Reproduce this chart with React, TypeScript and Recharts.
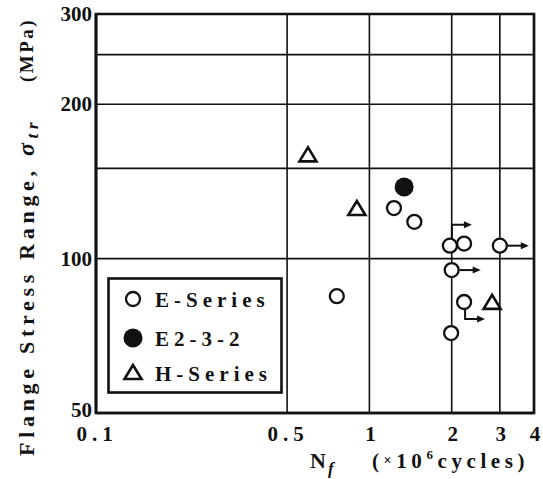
import React from 'react';
import {
  ScatterChart,
  Scatter,
  XAxis,
  YAxis,
  CartesianGrid,
  ReferenceArea,
  Legend,
  Label,
} from 'recharts';

// fatigue test results, N in million cycles, stress range in MPa
// runout = specimen did not fail, arrow shows the direction
const eSeries = [
  { n: 1.23, s: 125.5 },
  { n: 1.46, s: 118 },
  { n: 1.97, s: 106, runout: 'up' },
  { n: 2.22, s: 107 },
  { n: 3.0, s: 106, runout: 'right' },
  { n: 2.0, s: 95, runout: 'right' },
  { n: 0.76, s: 84.5 },
  { n: 2.22, s: 82.3, runout: 'down' },
  { n: 1.99, s: 71.6 },
];
const e232 = [{ n: 1.34, s: 138 }];
const hSeries = [
  { n: 0.596, s: 159 },
  { n: 0.9, s: 125 },
  { n: 2.81, s: 82 },
];

const seriesNames = ['E-Series', 'E2-3-2', 'H-Series'];
const xTicks = [0.1, 0.5, 1, 2, 3, 4];
const yTicks = [50, 100, 150, 200, 250, 300];
const yLabels = [50, 100, 200, 300];

const ink = '#111';
const font = "'Liberation Serif', 'Times New Roman', serif";

const OpenCircle = (props: any) => {
  const { cx, cy, payload } = props;
  const r = payload.runout;
  return (
    <g>
      <circle cx={cx} cy={cy} r={7} fill="#fff" stroke={ink} strokeWidth={2.3} />
      {r === 'right' && (
        <g>
          <path d={`M${cx + 8},${cy} H${cx + 22}`} stroke={ink} strokeWidth={2} />
          <polygon points={`${cx + 29},${cy} ${cx + 21},${cy - 3.5} ${cx + 21},${cy + 3.5}`} fill={ink} />
        </g>
      )}
      {r === 'up' && (
        <g>
          <path d={`M${cx + 2},${cy - 8} V${cy - 21} H${cx + 15}`} stroke={ink} strokeWidth={2} fill="none" />
          <polygon points={`${cx + 22},${cy - 21} ${cx + 14},${cy - 24.5} ${cx + 14},${cy - 17.5}`} fill={ink} />
        </g>
      )}
      {r === 'down' && (
        <g>
          <path d={`M${cx + 1},${cy + 8} V${cy + 17} H${cx + 14}`} stroke={ink} strokeWidth={2} fill="none" />
          <polygon points={`${cx + 21},${cy + 17} ${cx + 13},${cy + 13.5} ${cx + 13},${cy + 20.5}`} fill={ink} />
        </g>
      )}
    </g>
  );
};

const FilledCircle = (props: any) => (
  <circle cx={props.cx} cy={props.cy} r={9.5} fill={ink} />
);

const Triangle = (props: any) => {
  const { cx, cy } = props;
  return (
    <polygon
      points={`${cx},${cy - 8} ${cx - 8.5},${cy + 6} ${cx + 8.5},${cy + 6}`}
      fill="#fff"
      stroke={ink}
      strokeWidth={2.6}
    />
  );
};

const XTick = (props: any) => {
  const { x, y, payload } = props;
  const txt = String(payload.value);
  const dec = txt.includes('.');
  return (
    <text
      x={x + 1}
      y={y + 28}
      textAnchor="middle"
      fontFamily={font}
      fontWeight="bold"
      fontSize={21}
      letterSpacing={dec ? 5 : 0}
      fill={ink}
    >
      {txt}
    </text>
  );
};

const YTick = (props: any) => {
  const { x, y, payload } = props;
  if (!yLabels.includes(payload.value)) return <g />;
  return (
    <text
      x={x}
      y={y}
      dy={payload.value === 50 ? '0.2em' : '0.34em'}
      textAnchor="end"
      fontFamily={font}
      fontWeight="bold"
      fontSize={21}
      fill={ink}
    >
      {payload.value}
    </text>
  );
};

const YTitle = () => (
  <g fontFamily={font} fontWeight="bold" fill={ink}>
    <text transform="rotate(-90)" x={-456} y={34} fontSize={22} letterSpacing={4.7}>
      Flange Stress Range,{' '}
      <tspan fontStyle="italic" fontSize={24}>σ</tspan>
      <tspan fontStyle="italic" fontSize={17} dy={4}>tr</tspan>
    </text>
    <text transform="rotate(-90)" x={-82} y={33} fontSize={19} letterSpacing={2.5}>
      (MPa)
    </text>
  </g>
);

const XTitle = () => (
  <g fontFamily={font} fontWeight="bold" fill={ink}>
    <text x={310} y={468} fontSize={22}>N</text>
    <text x={328} y={474} fontSize={17} fontStyle="italic">f</text>
    <text x={372} y={468} fontSize={21} letterSpacing={4.6}>
      (
      <tspan fontSize={14} dy={-3}>×</tspan>
      <tspan dy={3}>10</tspan>
      <tspan fontSize={13} dy={-9}>6</tspan>
      <tspan dy={9}>cycles)</tspan>
    </text>
  </g>
);

const LegendBox = () => {
  const rows = [22, 61, 96];
  return (
    <svg width={176} height={117} style={{ display: 'block' }}>
      <rect x={1.5} y={1.5} width={173} height={114} fill="#fff" stroke={ink} strokeWidth={2.6} />
      <circle cx={26} cy={rows[0]} r={7} fill="#fff" stroke={ink} strokeWidth={2.3} />
      <circle cx={26} cy={rows[1]} r={9.5} fill={ink} />
      <polygon
        points={`26,${rows[2] - 8} 17.5,${rows[2] + 6} 34.5,${rows[2] + 6}`}
        fill="#fff"
        stroke={ink}
        strokeWidth={2.6}
      />
      {seriesNames.map((name, i) => (
        <text
          key={name}
          x={48}
          y={rows[i] + 7.5}
          fontFamily={font}
          fontWeight="bold"
          fontSize={21}
          letterSpacing={5}
          fill={ink}
        >
          {name}
        </text>
      ))}
    </svg>
  );
};

export default function App() {
  return (
    <div style={{ position: 'absolute', left: 0, top: 0, width: 543, height: 479, background: '#fff' }}>
      <ScatterChart width={543} height={479} margin={{ top: 14, right: 9, bottom: 0, left: 0 }}>
        <CartesianGrid stroke={ink} strokeWidth={1.6} />
        <XAxis
          type="number"
          dataKey="n"
          scale="log"
          domain={[0.1, 4]}
          ticks={xTicks}
          allowDataOverflow
          height={66}
          tickSize={0}
          tickMargin={0}
          tickLine={false}
          axisLine={{ stroke: ink, strokeWidth: 2.7 }}
          tick={<XTick />}
          interval={0}
        >
          <Label content={<XTitle />} />
        </XAxis>
        <YAxis
          type="number"
          dataKey="s"
          scale="log"
          domain={[50, 300]}
          ticks={yTicks}
          allowDataOverflow
          width={96}
          tickSize={0}
          tickMargin={4}
          tickLine={false}
          axisLine={{ stroke: ink, strokeWidth: 2.7 }}
          tick={<YTick />}
          interval={0}
        >
          <Label content={<YTitle />} />
        </YAxis>
        <ReferenceArea x1={0.1} x2={4} y1={50} y2={300} fill="none" stroke={ink} strokeWidth={2.7} />
        <Legend
          layout="vertical"
          align="center"
          verticalAlign="middle"
          content={<LegendBox />}
          wrapperStyle={{ position: 'absolute', left: 107, top: 277, width: 176, height: 117 }}
        />
        <Scatter name={seriesNames[0]} data={eSeries} shape={OpenCircle} isAnimationActive={false} />
        <Scatter name={seriesNames[1]} data={e232} shape={FilledCircle} isAnimationActive={false} />
        <Scatter name={seriesNames[2]} data={hSeries} shape={Triangle} isAnimationActive={false} />
      </ScatterChart>
    </div>
  );
}
